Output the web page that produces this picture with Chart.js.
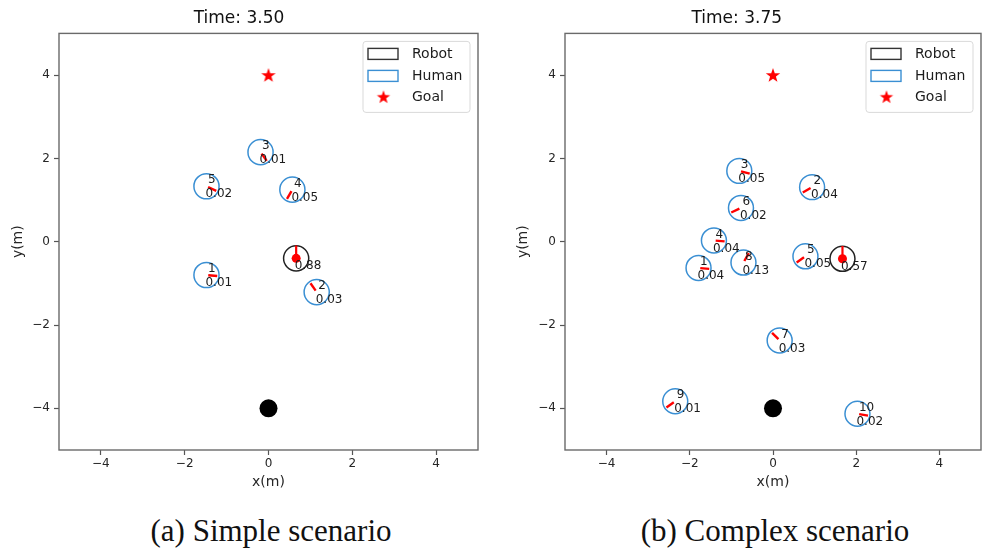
<!DOCTYPE html>
<html>
<head>
<meta charset="utf-8">
<script src="https://cdn.jsdelivr.net/npm/chart.js@4.4.1/dist/chart.umd.min.js"></script>
<style>
    body { margin: 0; background: #fff; width: 982px; height: 548px; overflow: hidden; position: relative; }
    .plot { position: absolute; top: 0; height: 500px; }
    #wrapA { left: 0; width: 490px; }
    #wrapB { left: 490px; width: 500px; }
    .cap { position: absolute; top: 515px; font-family: 'Liberation Serif', serif; font-size: 31px; line-height: 31px; color: #111; white-space: nowrap; transform: translateX(-50%); }
</style>
</head>
<body>
<div class="plot" id="wrapA"><canvas id="simpleChart" width="490" height="500"></canvas></div>
<div class="plot" id="wrapB"><canvas id="complexChart" width="500" height="500"></canvas></div>
<div class="cap" style="left:271px">(a) Simple scenario</div>
<div class="cap" style="left:775px">(b) Complex scenario</div>
<script>
const axisTicks = [-4, -2, 0, 2, 4];
const goalXY = [0, 4];
const startXY = [0, -4];
const agentRadius = 0.3;
const legendNames = ['Robot', 'Human', 'Goal'];

// (a) simple scenario
const simpleTitle = 'Time: 3.50';
const simpleHumanX = [-1.48, 1.15, -0.19, 0.57, -1.48];
const simpleHumanY = [-0.80, -1.21, 2.15, 1.25, 1.33];
const simpleHumanDir = [-5, 125, -55, 240, -25];
const simpleHumanVal = ['0.01', '0.03', '0.01', '0.05', '0.02'];
const simpleRobotXY = [0.66, -0.40];
const simpleRobotDir = 90;
const simpleRobotVal = '0.88';

// (b) complex scenario
const complexTitle = 'Time: 3.75';
const complexHumanX = [-1.79, 0.94, -0.81, -1.42, 0.78, -0.77, 0.16, -0.71, -2.35, 2.03];
const complexHumanY = [-0.63, 1.31, 1.70, 0.03, -0.35, 0.81, -2.37, -0.50, -3.83, -4.13];
const complexHumanDir = [-5, 210, -15, -5, 215, 205, 135, 60, 215, -10];
const complexHumanVal = ['0.04', '0.04', '0.05', '0.04', '0.05', '0.02', '0.03', '0.13', '0.01', '0.02'];
const complexRobotXY = [1.67, -0.41];
const complexRobotDir = 90;
const complexRobotVal = '0.57';

const FONT = 'DejaVu Sans';
const RED = '#ff0000';
const BLUE = '#3a8fd3';
const INK = '#1c1c1c';

function makeStar(r) {
    const c = document.createElement('canvas');
    c.width = c.height = 18;
    const g = c.getContext('2d');
    g.fillStyle = RED;
    g.beginPath();
    for (let i = 0; i < 10; i++) {
        const rr = i % 2 ? r * 0.4 : r;
        const a = -Math.PI / 2 + i * Math.PI / 5;
        g.lineTo(9 + rr * Math.cos(a), 9.6 + rr * Math.sin(a));
    }
    g.closePath();
    g.fill();
    return c;
}
const starImg = makeStar(7.6);
const legendStar = makeStar(7);

const rad = d => d * Math.PI / 180;
const minus = v => (v < 0 ? '\u2212' + Math.abs(v) : String(v));
const pxRadius = chart => chart.scales.x.getPixelForValue(agentRadius) - chart.scales.x.getPixelForValue(0);

function makeChart(id, cfg) {
    const humans = cfg.hx.map((x, i) => ({ x, y: cfg.hy[i] }));
    const headOff = 0.15;
    const heads = cfg.hx.map((x, i) => ({
        x: x + headOff * Math.cos(rad(cfg.hdir[i])),
        y: cfg.hy[i] + headOff * Math.sin(rad(cfg.hdir[i]))
    }));
    const [rx, ry] = cfg.robot;
    const robotHead = [{ x: rx + 0.15 * Math.cos(rad(cfg.rdir)), y: ry + 0.15 * Math.sin(rad(cfg.rdir)) }];

    const framePlugin = {
        id: 'frame',
        afterDatasetsDraw(chart) {
            const { ctx, chartArea: a, scales: { x, y } } = chart;
            ctx.save();
            // agent labels
            ctx.font = '12px "' + FONT + '"';
            ctx.fillStyle = INK;
            ctx.textBaseline = 'middle';
            ctx.textAlign = 'left';
            cfg.hx.forEach((hx, i) => {
                const px = x.getPixelForValue(hx), py = y.getPixelForValue(cfg.hy[i]);
                ctx.fillText(String(i + 1), px + 1.5, py - 6);
                ctx.fillText(cfg.hval[i], px - 1, py + 8);
            });
            ctx.fillText(cfg.rval, x.getPixelForValue(rx) - 1.5, y.getPixelForValue(ry) + 8);
            // axes box
            ctx.strokeStyle = '#6a6a6a';
            ctx.lineWidth = 1.4;
            ctx.strokeRect(a.left, a.top, a.right - a.left, a.bottom - a.top);
            // legend
            const bw = 107, bh = 71;
            const bx = a.right - 8 - bw, by = a.top + 8;
            ctx.beginPath();
            ctx.roundRect(bx, by, bw, bh, 3);
            ctx.fillStyle = 'rgba(255,255,255,0.85)';
            ctx.fill();
            ctx.strokeStyle = '#d9d9d9';
            ctx.lineWidth = 1;
            ctx.stroke();
            const rows = [12.5, 34.5, 56];
            ctx.lineWidth = 1.4;
            ctx.strokeStyle = '#333';
            ctx.strokeRect(bx + 5, by + rows[0] - 5.5, 30, 11);
            ctx.strokeStyle = BLUE;
            ctx.strokeRect(bx + 5, by + rows[1] - 5.5, 30, 11);
            ctx.drawImage(legendStar, bx + 20.5 - 9, by + rows[2] - 9.6);
            ctx.font = '14px "' + FONT + '"';
            ctx.fillStyle = INK;
            legendNames.forEach((n, i) => ctx.fillText(n, bx + 49, by + rows[i]));
            ctx.restore();
        }
    };

    return new Chart(document.getElementById(id), {
        type: 'scatter',
        data: {
            datasets: [
                { label: 'human heading', data: heads, order: 0,
                  pointStyle: 'line', pointRotation: cfg.hdir.map(d => -d), pointRadius: 4.5,
                  pointBorderColor: RED, pointBackgroundColor: RED, pointBorderWidth: 2.4 },
                { label: 'robot heading', data: robotHead, order: 0,
                  pointStyle: 'line', pointRotation: -cfg.rdir, pointRadius: 6.5,
                  pointBorderColor: RED, pointBorderWidth: 2.2 },
                { label: 'robot centre', data: [{ x: rx, y: ry }], order: 1,
                  pointStyle: 'circle', pointRadius: 4.5, pointBackgroundColor: RED, pointBorderWidth: 0 },
                { label: 'Human', data: humans, order: 2,
                  pointStyle: 'circle', pointRadius: c => pxRadius(c.chart),
                  pointBackgroundColor: 'rgba(0,0,0,0)', pointBorderColor: BLUE, pointBorderWidth: 1.5 },
                { label: 'Robot', data: [{ x: rx, y: ry }], order: 2,
                  pointStyle: 'circle', pointRadius: c => pxRadius(c.chart),
                  pointBackgroundColor: 'rgba(0,0,0,0)', pointBorderColor: '#222', pointBorderWidth: 1.5 },
                { label: 'Goal', data: [{ x: goalXY[0], y: goalXY[1] }], order: 2,
                  pointStyle: starImg },
                { label: 'start', data: [{ x: startXY[0], y: startXY[1] }], order: 2,
                  pointStyle: 'circle', pointRadius: 9, pointBackgroundColor: '#000', pointBorderWidth: 0 }
            ]
        },
        options: {
            responsive: false,
            animation: false,
            events: [],
            layout: { padding: { left: 0, right: cfg.padRight, top: 0, bottom: 0 } },
            plugins: {
                legend: { display: false },
                tooltip: { enabled: false },
                title: {
                    display: true, text: cfg.title, color: '#111',
                    font: { family: FONT, size: 17, weight: 'normal' },
                    padding: { top: 8, bottom: 5 }
                }
            },
            scales: {
                x: {
                    type: 'linear', min: -5, max: 5,
                    afterBuildTicks: s => { s.ticks = axisTicks.map(v => ({ value: v })); },
                    afterFit: s => { s.height = 50; },
                    border: { display: false },
                    grid: { drawOnChartArea: false, drawTicks: true, tickLength: 5, tickColor: '#555', tickWidth: 1.2 },
                    ticks: { font: { family: FONT, size: 12 }, color: '#262626', padding: 2, callback: minus },
                    title: { display: true, text: 'x(m)', color: '#262626', font: { family: FONT, size: 14 }, padding: { top: 0, bottom: 9 } }
                },
                y: {
                    type: 'linear', min: -5, max: 5,
                    afterBuildTicks: s => { s.ticks = axisTicks.map(v => ({ value: v })); },
                    afterFit: s => { s.width = cfg.yW; },
                    border: { display: false },
                    grid: { drawOnChartArea: false, drawTicks: true, tickLength: 5, tickColor: '#555', tickWidth: 1.2 },
                    ticks: { font: { family: FONT, size: 12 }, color: '#262626', padding: 4, callback: minus },
                    title: { display: true, text: 'y(m)', color: '#262626', font: { family: FONT, size: 14 }, padding: { top: cfg.yTitlePad, bottom: 0 } }
                }
            }
        },
        plugins: [framePlugin]
    });
}

makeChart('simpleChart', {
    title: simpleTitle, hx: simpleHumanX, hy: simpleHumanY, hdir: simpleHumanDir, hval: simpleHumanVal,
    robot: simpleRobotXY, rdir: simpleRobotDir, rval: simpleRobotVal,
    yW: 59, padRight: 12, yTitlePad: 10
});
makeChart('complexChart', {
    title: complexTitle, hx: complexHumanX, hy: complexHumanY, hdir: complexHumanDir, hval: complexHumanVal,
    robot: complexRobotXY, rdir: complexRobotDir, rval: complexRobotVal,
    yW: 75, padRight: 6.5, yTitlePad: 24.5
});
</script>
</body>
</html>
